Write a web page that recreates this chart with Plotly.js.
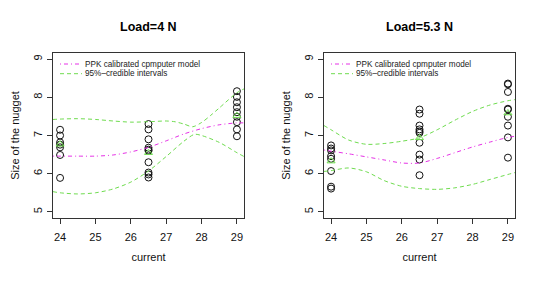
<!DOCTYPE html>
<html>
<head>
<meta charset="utf-8">
<script src="https://cdn.plot.ly/plotly-3.0.1.min.js"></script>
<style>html,body{margin:0;padding:0;background:#fff;}#chart{width:542px;height:285px;}</style>
</head>
<body>
<div id="chart"></div>
<script>
// ---- data ----
const panelTitles = ["Load=4 N", "Load=5.3 N"];
const xTicks = [24, 25, 26, 27, 28, 29];
const yTicks = [5, 6, 7, 8, 9];
const legendNames = ["PPK calibrated cpmputer model", "95%\u2013credible intervals"];

// observations (Load=4 N)
const obsX_L = [24,24,24,24,24,24,24,
  26.5,26.5,26.5,26.5,26.5,26.5,26.5,26.5,26.5,26.5,
  29,29,29,29,29,29,29,29,29];
const obsY_L = [7.15,7.0,6.82,6.76,6.69,6.49,5.89,
  7.30,7.16,6.90,6.68,6.63,6.60,6.30,6.03,5.98,5.90,
  8.16,8.01,7.87,7.74,7.61,7.49,7.35,7.16,6.98];
const meanX_L = [24, 26.5, 29];
const meanY_L = [6.77, 6.55, 7.52];

// observations (Load=5.3 N)
const obsX_R = [24,24,24,24,24,24,24,24,
  26.5,26.5,26.5,26.5,26.5,26.5,26.5,26.5,26.5,26.5,
  29,29,29,29,29,29,29,29,29];
const obsY_R = [6.74,6.66,6.61,6.46,6.39,6.07,5.66,5.61,
  7.68,7.57,7.26,7.16,7.11,7.07,6.81,6.50,6.37,5.96,
  8.36,8.34,8.14,7.70,7.68,7.49,7.26,6.95,6.42];
const meanX_R = [24, 26.5, 29];
const meanY_R = [6.33, 6.94, 7.59];

// model curves
const gridX = [23.8,24,24.5,25,25.5,26,26.5,27,27.5,28,28.5,29,29.2];
const modelL = [6.46,6.46,6.46,6.46,6.49,6.57,6.69,6.86,7.04,7.18,7.28,7.33,7.33];
const modelR = [6.62,6.59,6.52,6.44,6.36,6.28,6.28,6.40,6.55,6.70,6.83,6.95,6.98];

const bandX_L = [23.8,24,24.5,25,25.5,26,26.5,27,27.25,27.5,27.75,28,28.25,28.5,29,29.2];
const upperL  = [7.42,7.43,7.44,7.42,7.38,7.35,7.36,7.38,7.36,7.30,7.23,7.34,7.52,7.72,8.12,8.22];
const bandX_L2 = [23.8,24,24.5,25,25.5,26,26.5,27,27.5,27.8,28,28.5,29,29.2];
const lowerL  = [5.53,5.50,5.47,5.50,5.60,5.78,6.07,6.45,6.85,7.03,7.00,6.82,6.55,6.45];

const upperR = [7.26,7.15,6.88,6.77,6.79,6.85,6.94,7.15,7.40,7.63,7.80,7.91,7.94];
const lowerR = [6.06,6.08,6.15,6.05,5.82,5.67,5.61,5.59,5.63,5.72,5.85,5.98,6.03];

// ---- styles ----
const MAG = '#e632e6', GRN = '#6fdc4f';
const FONT = 'Liberation Sans, Arial, Helvetica, sans-serif';
const W = 542, H = 285;
const px = v => v / W, py = v => 1 - v / H;

function traces(xa, ya, ox, oy, mx, my, bxU, up, bxL, lo, mod) {
  return [
    {x: ox, y: oy, xaxis: xa, yaxis: ya, type: 'scatter', mode: 'markers', showlegend: false,
     marker: {symbol: 'circle-open', size: 7, color: '#111', line: {width: 1, color: '#111'}}},
    {x: mx, y: my, xaxis: xa, yaxis: ya, type: 'scatter', mode: 'markers', showlegend: false,
     marker: {symbol: 'triangle-up-open', size: 7, color: GRN, line: {width: 1, color: GRN}}},
    {x: gridX, y: mod, xaxis: xa, yaxis: ya, type: 'scatter', mode: 'lines', name: legendNames[0], showlegend: false,
     line: {color: MAG, width: 1, dash: '1px,3px,4px,3px', shape: 'spline', smoothing: 0.8}},
    {x: bxU, y: up, xaxis: xa, yaxis: ya, type: 'scatter', mode: 'lines', name: legendNames[1], showlegend: false,
     line: {color: GRN, width: 1, dash: '4px,3px', shape: 'spline', smoothing: 0.8}},
    {x: bxL, y: lo, xaxis: xa, yaxis: ya, type: 'scatter', mode: 'lines', name: legendNames[1], showlegend: false,
     line: {color: GRN, width: 1, dash: '4px,3px', shape: 'spline', smoothing: 0.8}}
  ];
}

const data = [].concat(
  traces('x', 'y', obsX_L, obsY_L, meanX_L, meanY_L, bandX_L, upperL, bandX_L2, lowerL, modelL),
  traces('x2', 'y2', obsX_R, obsY_R, meanX_R, meanY_R, gridX, upperR, gridX, lowerR, modelR)
);

function xaxis(dom) {
  return {domain: dom, range: [23.8, 29.2], tickvals: xTicks, ticktext: xTicks.map(String),
    ticks: 'outside', ticklen: 5, tickcolor: '#333', showline: true, mirror: true, linecolor: '#333', linewidth: 1,
    showgrid: false, zeroline: false, tickfont: {family: FONT, size: 11, color: '#111'},
    ticklabelstandoff: 4,
    title: {text: 'current', font: {family: FONT, size: 11, color: '#111'}, standoff: 11}};
}
function yaxis(anchor) {
  return {domain: [py(218), py(53)], anchor: anchor, range: [4.84, 9.16], tickvals: yTicks, ticktext: yTicks.map(String),
    ticks: 'outside', ticklen: 5, tickcolor: '#333', showline: true, mirror: true, linecolor: '#333', linewidth: 1,
    showgrid: false, zeroline: false, tickangle: -90, tickfont: {family: FONT, size: 11, color: '#111'},
    ticklabelstandoff: 1,
    title: {text: 'Size of the nugget', font: {family: FONT, size: 11, color: '#111'}, standoff: 9}};
}

const leftDom = [px(53), px(244)], rightDom = [px(324), px(515)];
const annotations = [], shapes = [];
[[0, leftDom], [271, rightDom]].forEach(([off, dom], i) => {
  annotations.push({text: '<b>' + panelTitles[i] + '</b>', xref: 'paper', yref: 'paper',
    x: (dom[0] + dom[1]) / 2, y: py(27), xanchor: 'center', yanchor: 'middle', showarrow: false,
    font: {family: FONT, size: 12.5, color: '#000'}});
  legendNames.forEach((nm, k) => {
    const yy = [64, 73.7][k];
    annotations.push({text: nm, xref: 'paper', yref: 'paper', x: px(off + 83), y: py(yy),
      xanchor: 'left', yanchor: 'middle', showarrow: false, font: {family: FONT, size: 8.2, color: '#222'}});
    shapes.push({type: 'line', xref: 'paper', yref: 'paper', x0: px(off + 60), x1: px(off + 82),
      y0: py(yy), y1: py(yy), line: {color: k === 0 ? MAG : GRN, width: 1, dash: k === 0 ? '1px,3px,4px,3px' : '4px,3px'}});
  });
});

const layout = {
  width: W, height: H, margin: {l: 0, r: 0, t: 0, b: 0},
  paper_bgcolor: '#fff', plot_bgcolor: '#fff', showlegend: false,
  xaxis: xaxis(leftDom), yaxis: yaxis('x'),
  xaxis2: Object.assign(xaxis(rightDom), {anchor: 'y2'}), yaxis2: yaxis('x2'),
  annotations: annotations, shapes: shapes
};
layout.xaxis.anchor = 'y';

Plotly.newPlot('chart', data, layout, {displayModeBar: false, staticPlot: true});
</script>
</body>
</html>
